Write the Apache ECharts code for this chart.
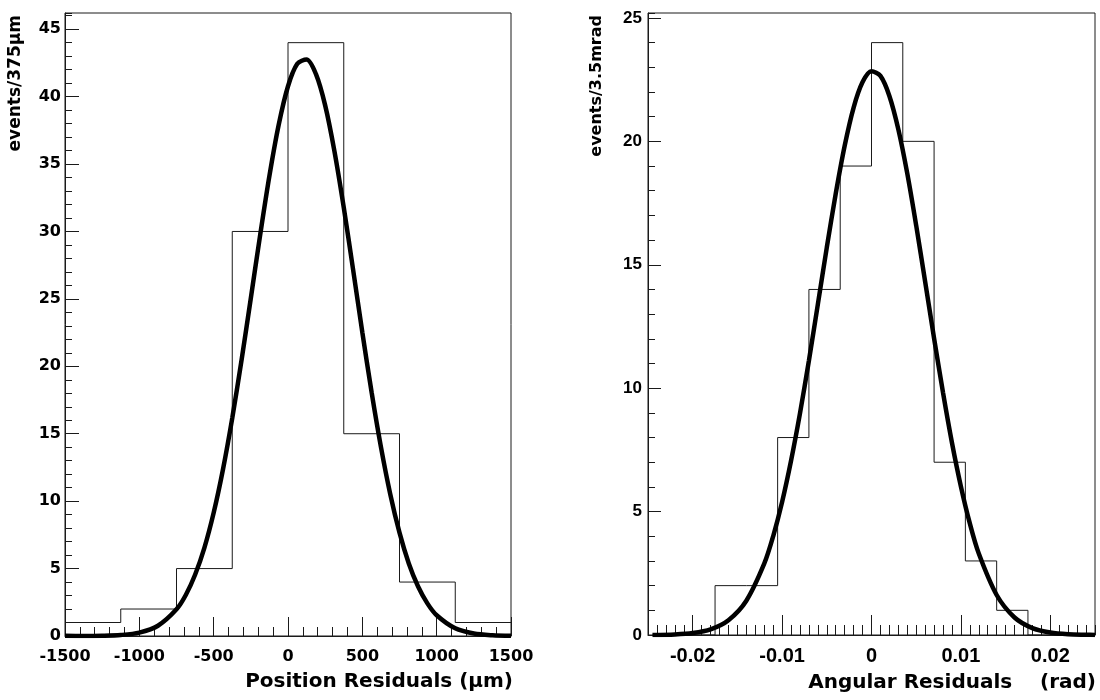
<!DOCTYPE html>
<html>
<head>
<meta charset="utf-8">
<script src="https://cdn.jsdelivr.net/npm/echarts@6/dist/echarts.min.js"></script>
<style>
html,body{margin:0;padding:0;background:#fff;}
#chart{width:1100px;height:700px;}
</style>
</head>
<body>
<div id="chart"></div>
<script>
// ---------- Left panel: position residuals ----------
const leftBinEdges = [-1500, -1125, -750, -375, 0, 375, 750, 1125, 1500];
const leftCounts = [1, 2, 5, 30, 44, 15, 4, 1];
const leftFitX = [-1500, -1375, -1250, -1125, -1000, -875, -750, -687.5, -625, -562.5, -500, -437.5,
                  -375, -312.5, -250, -187.5, -125, -62.5, 0, 62.5, 125, 187.5, 250, 312.5, 375,
                  437.5, 500, 562.5, 625, 687.5, 750, 812.5, 875, 937.5, 1000, 1125, 1250, 1375, 1500];
const leftFitY = [0.01, 0.004, 0.02, 0.075, 0.25, 0.76, 1.98, 3.04, 4.54, 6.54, 9.14, 12.35,
                  16.16, 20.46, 25.06, 29.72, 34.12, 37.91, 40.77, 42.43, 42.75, 41.68, 39.35, 35.94, 31.78,
                  27.2, 22.52, 18.06, 14.02, 10.53, 7.66, 5.38, 3.67, 2.42, 1.54, 0.57, 0.18, 0.05, 0.01];
const leftXTicks = [-1500, -1000, -500, 0, 500, 1000, 1500];
const leftYTicks = [0, 5, 10, 15, 20, 25, 30, 35, 40, 45];

// ---------- Right panel: angular residuals ----------
const rightBinEdges = [-0.0245, -0.021, -0.0175, -0.014, -0.0105, -0.007, -0.0035, 0,
                       0.0035, 0.007, 0.0105, 0.014, 0.0175, 0.021, 0.0245];
const rightCounts = [0, 0, 2, 2, 8, 14, 19, 24, 20, 7, 3, 1, 0, 0];
const rightFitX = [-0.0245, -0.022, -0.020, -0.018, -0.016, -0.014, -0.012, -0.011, -0.010, -0.009,
                   -0.008, -0.007, -0.006, -0.005, -0.004, -0.003, -0.002, -0.001, 0, 0.001, 0.002,
                   0.003, 0.004, 0.005, 0.006, 0.007, 0.008, 0.009, 0.010, 0.011, 0.012, 0.014,
                   0.016, 0.018, 0.020, 0.022, 0.024, 0.025];
const rightFitY = [0.005, 0.024, 0.079, 0.23, 0.60, 1.39, 2.89, 4.00, 5.39, 7.06,
                   8.98, 11.12, 13.40, 15.70, 17.88, 19.82, 21.37, 22.40, 22.84, 22.65, 21.84,
                   20.49, 18.70, 16.59, 14.32, 12.02, 9.82, 7.79, 6.02, 4.52, 3.30, 1.62,
                   0.71, 0.28, 0.10, 0.03, 0.01, 0.004];
const rightXTicks = [-0.02, -0.01, 0, 0.01, 0.02];
const rightYTicks = [0, 5, 10, 15, 20, 25];

// ---------- helpers ----------
function histPoints(edges, counts) {
  const pts = counts.map((c, i) => [edges[i], c]);
  pts.push([edges[edges.length - 1], counts[counts.length - 1]]);
  return pts;
}
function zip(xs, ys) { return xs.map((x, i) => [x, ys[i]]); }

const INK = '#1a1a1a';
const fontL = '"DejaVu Sans"';
const fontR = '"Liberation Sans", Arial';

function majorAxis(opts) {
  return Object.assign({
    type: 'value',
    splitLine: { show: false },
    axisLine: { show: true, onZero: false, lineStyle: { color: INK, width: 1 } },
    axisTick: { show: true, inside: true, lineStyle: { color: INK, width: 1 } },
    axisLabel: { show: true, color: '#000', formatter: v => String(v) }
  }, opts);
}
function minorAxis(opts) {
  return Object.assign({
    type: 'value',
    splitLine: { show: false },
    axisLine: { show: false, onZero: false },
    axisLabel: { show: false },
    axisTick: { show: true, inside: true, lineStyle: { color: INK, width: 1 } }
  }, opts);
}

const option = {
  backgroundColor: '#fff',
  animation: false,
  grid: [
    { left: 65, top: 13, width: 446, height: 623, show: true, borderColor: INK, borderWidth: 1, backgroundColor: 'transparent' },
    { left: 648, top: 13, width: 447, height: 622, show: true, borderColor: INK, borderWidth: 1, backgroundColor: 'transparent' }
  ],
  xAxis: [
    majorAxis({ gridIndex: 0, position: 'bottom', min: -1500, max: 1500,
      axisTick: { show: true, inside: true, length: 19, customValues: leftXTicks, lineStyle: { color: INK } },
      axisLabel: { customValues: leftXTicks, margin: 13, color: '#000', fontFamily: fontL, fontWeight: 'bold', fontSize: 16, formatter: v => String(v) } }),
    minorAxis({ gridIndex: 0, position: 'bottom', min: -1500, max: 1500, interval: 100,
      axisTick: { show: true, inside: true, length: 9, lineStyle: { color: INK } } }),
    majorAxis({ gridIndex: 1, position: 'bottom', min: -0.025, max: 0.025,
      axisTick: { show: true, inside: true, length: 20, customValues: rightXTicks, lineStyle: { color: INK } },
      axisLabel: { customValues: rightXTicks, margin: 11, color: '#000', fontFamily: fontR, fontWeight: 'bold', fontSize: 20, formatter: v => String(v) } }),
    minorAxis({ gridIndex: 1, position: 'bottom', min: -0.025, max: 0.025, interval: 0.001,
      axisTick: { show: true, inside: true, length: 10, lineStyle: { color: INK } } })
  ],
  yAxis: [
    majorAxis({ gridIndex: 0, position: 'left', min: 0, max: 46.2,
      axisTick: { show: true, inside: true, length: 14, customValues: leftYTicks, lineStyle: { color: INK } },
      axisLabel: { customValues: leftYTicks, margin: 4, color: '#000', fontFamily: fontL, fontWeight: 'bold', fontSize: 16, formatter: v => String(v) } }),
    minorAxis({ gridIndex: 0, position: 'left', min: 0, max: 46.2, interval: 1,
      axisTick: { show: true, inside: true, length: 7, lineStyle: { color: INK } } }),
    majorAxis({ gridIndex: 1, position: 'left', min: 0, max: 25.2,
      axisTick: { show: true, inside: true, length: 13, customValues: rightYTicks, lineStyle: { color: INK } },
      axisLabel: { customValues: rightYTicks, margin: 6, color: '#000', fontFamily: fontR, fontWeight: 'bold', fontSize: 17, formatter: v => String(v) } }),
    minorAxis({ gridIndex: 1, position: 'left', min: 0, max: 25.2, interval: 1,
      axisTick: { show: true, inside: true, length: 7, lineStyle: { color: INK } } })
  ],
  series: [
    { type: 'line', xAxisIndex: 0, yAxisIndex: 0, step: 'end', symbol: 'none', z: 2,
      lineStyle: { color: INK, width: 1 }, data: histPoints(leftBinEdges, leftCounts) },
    { type: 'line', xAxisIndex: 0, yAxisIndex: 0, smooth: 0.3, symbol: 'none', z: 3,
      lineStyle: { color: '#000', width: 4.5 }, data: zip(leftFitX, leftFitY) },
    { type: 'line', xAxisIndex: 2, yAxisIndex: 2, step: 'end', symbol: 'none', z: 2,
      lineStyle: { color: INK, width: 1 }, data: histPoints(rightBinEdges, rightCounts) },
    { type: 'line', xAxisIndex: 2, yAxisIndex: 2, smooth: 0.3, symbol: 'none', z: 3,
      lineStyle: { color: '#000', width: 4.5 }, data: zip(rightFitX, rightFitY) }
  ],
  graphic: [
    { type: 'text', x: 513, y: 681.5, style: { text: 'Position Residuals (μm)', font: 'bold 20px ' + fontL, align: 'right', verticalAlign: 'middle', fill: '#000' } },
    { type: 'text', x: 1096, y: 682.5, style: { text: 'Angular Residuals    (rad)', font: 'bold 20px ' + fontL, align: 'right', verticalAlign: 'middle', fill: '#000' } },
    { type: 'text', x: 16, y: 15, rotation: Math.PI / 2, style: { text: 'events/375μm', font: 'bold 17px ' + fontL, align: 'right', verticalAlign: 'middle', fill: '#000' } },
    { type: 'text', x: 597, y: 15, rotation: Math.PI / 2, style: { text: 'events/3.5mrad', font: 'bold 16px ' + fontL, align: 'right', verticalAlign: 'middle', fill: '#000' } }
  ]
};

const chart = echarts.init(document.getElementById('chart'), null, { renderer: 'canvas' });
chart.setOption(option);
</script>
</body>
</html>
